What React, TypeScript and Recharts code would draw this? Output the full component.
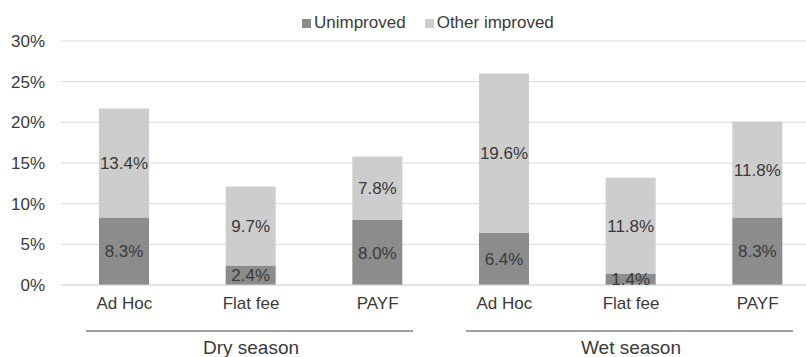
import { BarChart, Bar, XAxis, YAxis, CartesianGrid, Legend, LabelList } from "recharts"

const categories = ["Ad Hoc", "Flat fee", "PAYF", "Ad Hoc", "Flat fee", "PAYF"]
const seasons = ["Dry season", "Dry season", "Dry season", "Wet season", "Wet season", "Wet season"]
const unimproved = [8.3, 2.4, 8.0, 6.4, 1.4, 8.3]
const otherImproved = [13.4, 9.7, 7.8, 19.6, 11.8, 11.8]
const yTicks = [0, 5, 10, 15, 20, 25, 30]
const legendOrder = ["Unimproved", "Other improved"]

const COLORS = {
  unimproved: "#8c8c8c",
  other: "#cdcdcd",
  grid: "#d9d9d9",
  text: "#3a3a3a",
}

const FONT = "'Liberation Sans', Arial, sans-serif"

const data = categories.map((c, i) => ({
  category: c,
  season: seasons[i],
  unimproved: unimproved[i],
  other: otherImproved[i],
}))

const fmt = (v: number) => `${v.toFixed(1)}%`

function SeasonTick(props: any) {
  const { x, y, index, payload } = props
  // one label per group, drawn under the middle bar
  if (index % 3 !== 1) return <g />
  return (
    <g>
      <line x1={x - 165} x2={x + 162} y1={y + 14} y2={y + 14} stroke="#7f7f7f" strokeWidth={1.5} />
      <text x={x} y={y + 37} textAnchor="middle" fontSize={19} fill={COLORS.text} fontFamily={FONT}>
        {payload.value}
      </text>
    </g>
  )
}

function LegendContent(props: any) {
  const items = [...(props.payload || [])].sort(
    (a: any, b: any) => legendOrder.indexOf(a.value) - legendOrder.indexOf(b.value)
  )
  return (
    <div style={{ display: "flex", alignItems: "center", fontFamily: FONT, fontSize: 17, color: COLORS.text }}>
      {items.map((it: any) => (
        <div key={it.value} style={{ display: "flex", alignItems: "center", marginRight: 19 }}>
          <span style={{ width: 9, height: 9, background: it.color, marginRight: 3, display: "inline-block" }} />
          <span>{it.value}</span>
        </div>
      ))}
    </div>
  )
}

export default function App() {
  return (
    <div style={{ position: "absolute", left: 0, top: 0, width: 806, height: 357, overflow: "hidden", background: "#fff" }}>
      <BarChart
        width={822}
        height={357}
        data={data}
        margin={{ top: 41, right: 1, left: 0, bottom: 0 }}
        barSize={50}
      >
        <CartesianGrid vertical={false} stroke={COLORS.grid} />
        <XAxis
          dataKey="category"
          axisLine={{ stroke: COLORS.grid }}
          tickLine={false}
          tickSize={0}
          tickMargin={12}
          height={30}
          tick={{ fontSize: 17, fill: COLORS.text, fontFamily: FONT }}
          interval={0}
        />
        <XAxis
          xAxisId="season"
          dataKey="season"
          axisLine={false}
          tickLine={false}
          tickSize={0}
          height={42}
          interval={0}
          tick={<SeasonTick />}
        />
        <YAxis
          width={61}
          domain={[0, 30]}
          ticks={yTicks}
          tickFormatter={(v: number) => `${v}%`}
          axisLine={false}
          tickLine={false}
          tickSize={0}
          tickMargin={16}
          tick={{ fontSize: 17, fill: COLORS.text, fontFamily: FONT }}
        />
        <Legend
          layout="horizontal"
          verticalAlign="middle"
          align="center"
          content={<LegendContent />}
          wrapperStyle={{ top: 13, left: 302, width: "auto" }}
        />
        <Bar dataKey="unimproved" name="Unimproved" stackId="a" fill={COLORS.unimproved} isAnimationActive={false}>
          <LabelList dataKey="unimproved" position="center" formatter={fmt} fill={COLORS.text} fontSize={17} fontFamily={FONT} />
        </Bar>
        <Bar dataKey="other" name="Other improved" stackId="a" fill={COLORS.other} isAnimationActive={false}>
          <LabelList dataKey="other" position="center" formatter={fmt} fill={COLORS.text} fontSize={17} fontFamily={FONT} />
        </Bar>
      </BarChart>
    </div>
  )
}
